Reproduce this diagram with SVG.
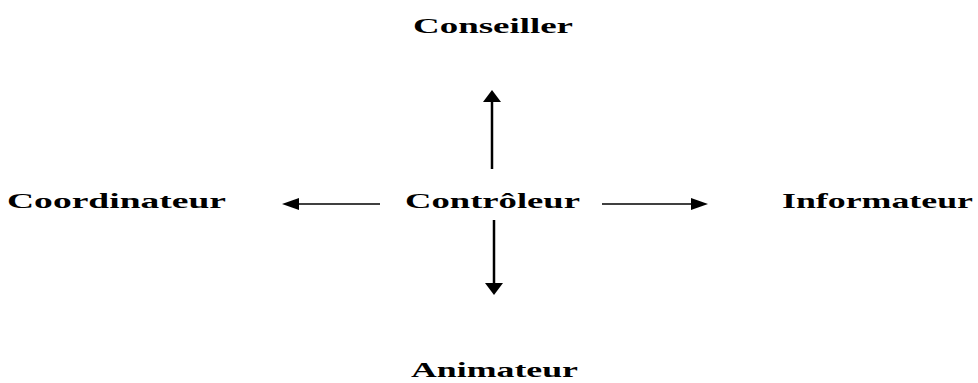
<svg xmlns="http://www.w3.org/2000/svg" width="978" height="383" viewBox="0 0 978 383">
  <style>
    .label { font-family: "Liberation Serif", "Times New Roman", serif; font-weight: bold; font-size: 22px; fill: #000; }
    .shaft { stroke: #000; fill: none; }
    .head { fill: #000; stroke: none; }
  </style>
  <rect width="978" height="383" fill="#fff"/>

  <g id="conseiller">
    <text class="label" x="413" y="33" textLength="160" lengthAdjust="spacingAndGlyphs">Conseiller</text>
  </g>
  <g id="controleur">
    <text class="label" x="405" y="208" textLength="175" lengthAdjust="spacingAndGlyphs">Contrôleur</text>
  </g>
  <g id="coordinateur">
    <text class="label" x="7" y="208" textLength="219" lengthAdjust="spacingAndGlyphs">Coordinateur</text>
  </g>
  <g id="informateur">
    <text class="label" x="782" y="208" textLength="191" lengthAdjust="spacingAndGlyphs">Informateur</text>
  </g>
  <g id="animateur">
    <text class="label" x="411" y="377" textLength="167" lengthAdjust="spacingAndGlyphs">Animateur</text>
  </g>

  <g id="connectors">
    <!-- up to Conseiller -->
    <line class="shaft" x1="492" y1="169" x2="492" y2="100" stroke-width="2.5"/>
    <polygon class="head" points="492,90 483,102 501,102"/>
    <!-- down to Animateur -->
    <line class="shaft" x1="494" y1="220" x2="494" y2="285" stroke-width="2.5"/>
    <polygon class="head" points="494,295 485,283 503,283"/>
    <!-- left to Coordinateur -->
    <line class="shaft" x1="380" y1="204" x2="296" y2="204" stroke-width="1.6"/>
    <polygon class="head" points="282,204 299,198 299,210"/>
    <!-- right to Informateur -->
    <line class="shaft" x1="602" y1="204" x2="694" y2="204" stroke-width="1.6"/>
    <polygon class="head" points="708,204 691,198 691,210"/>
  </g>
</svg>
